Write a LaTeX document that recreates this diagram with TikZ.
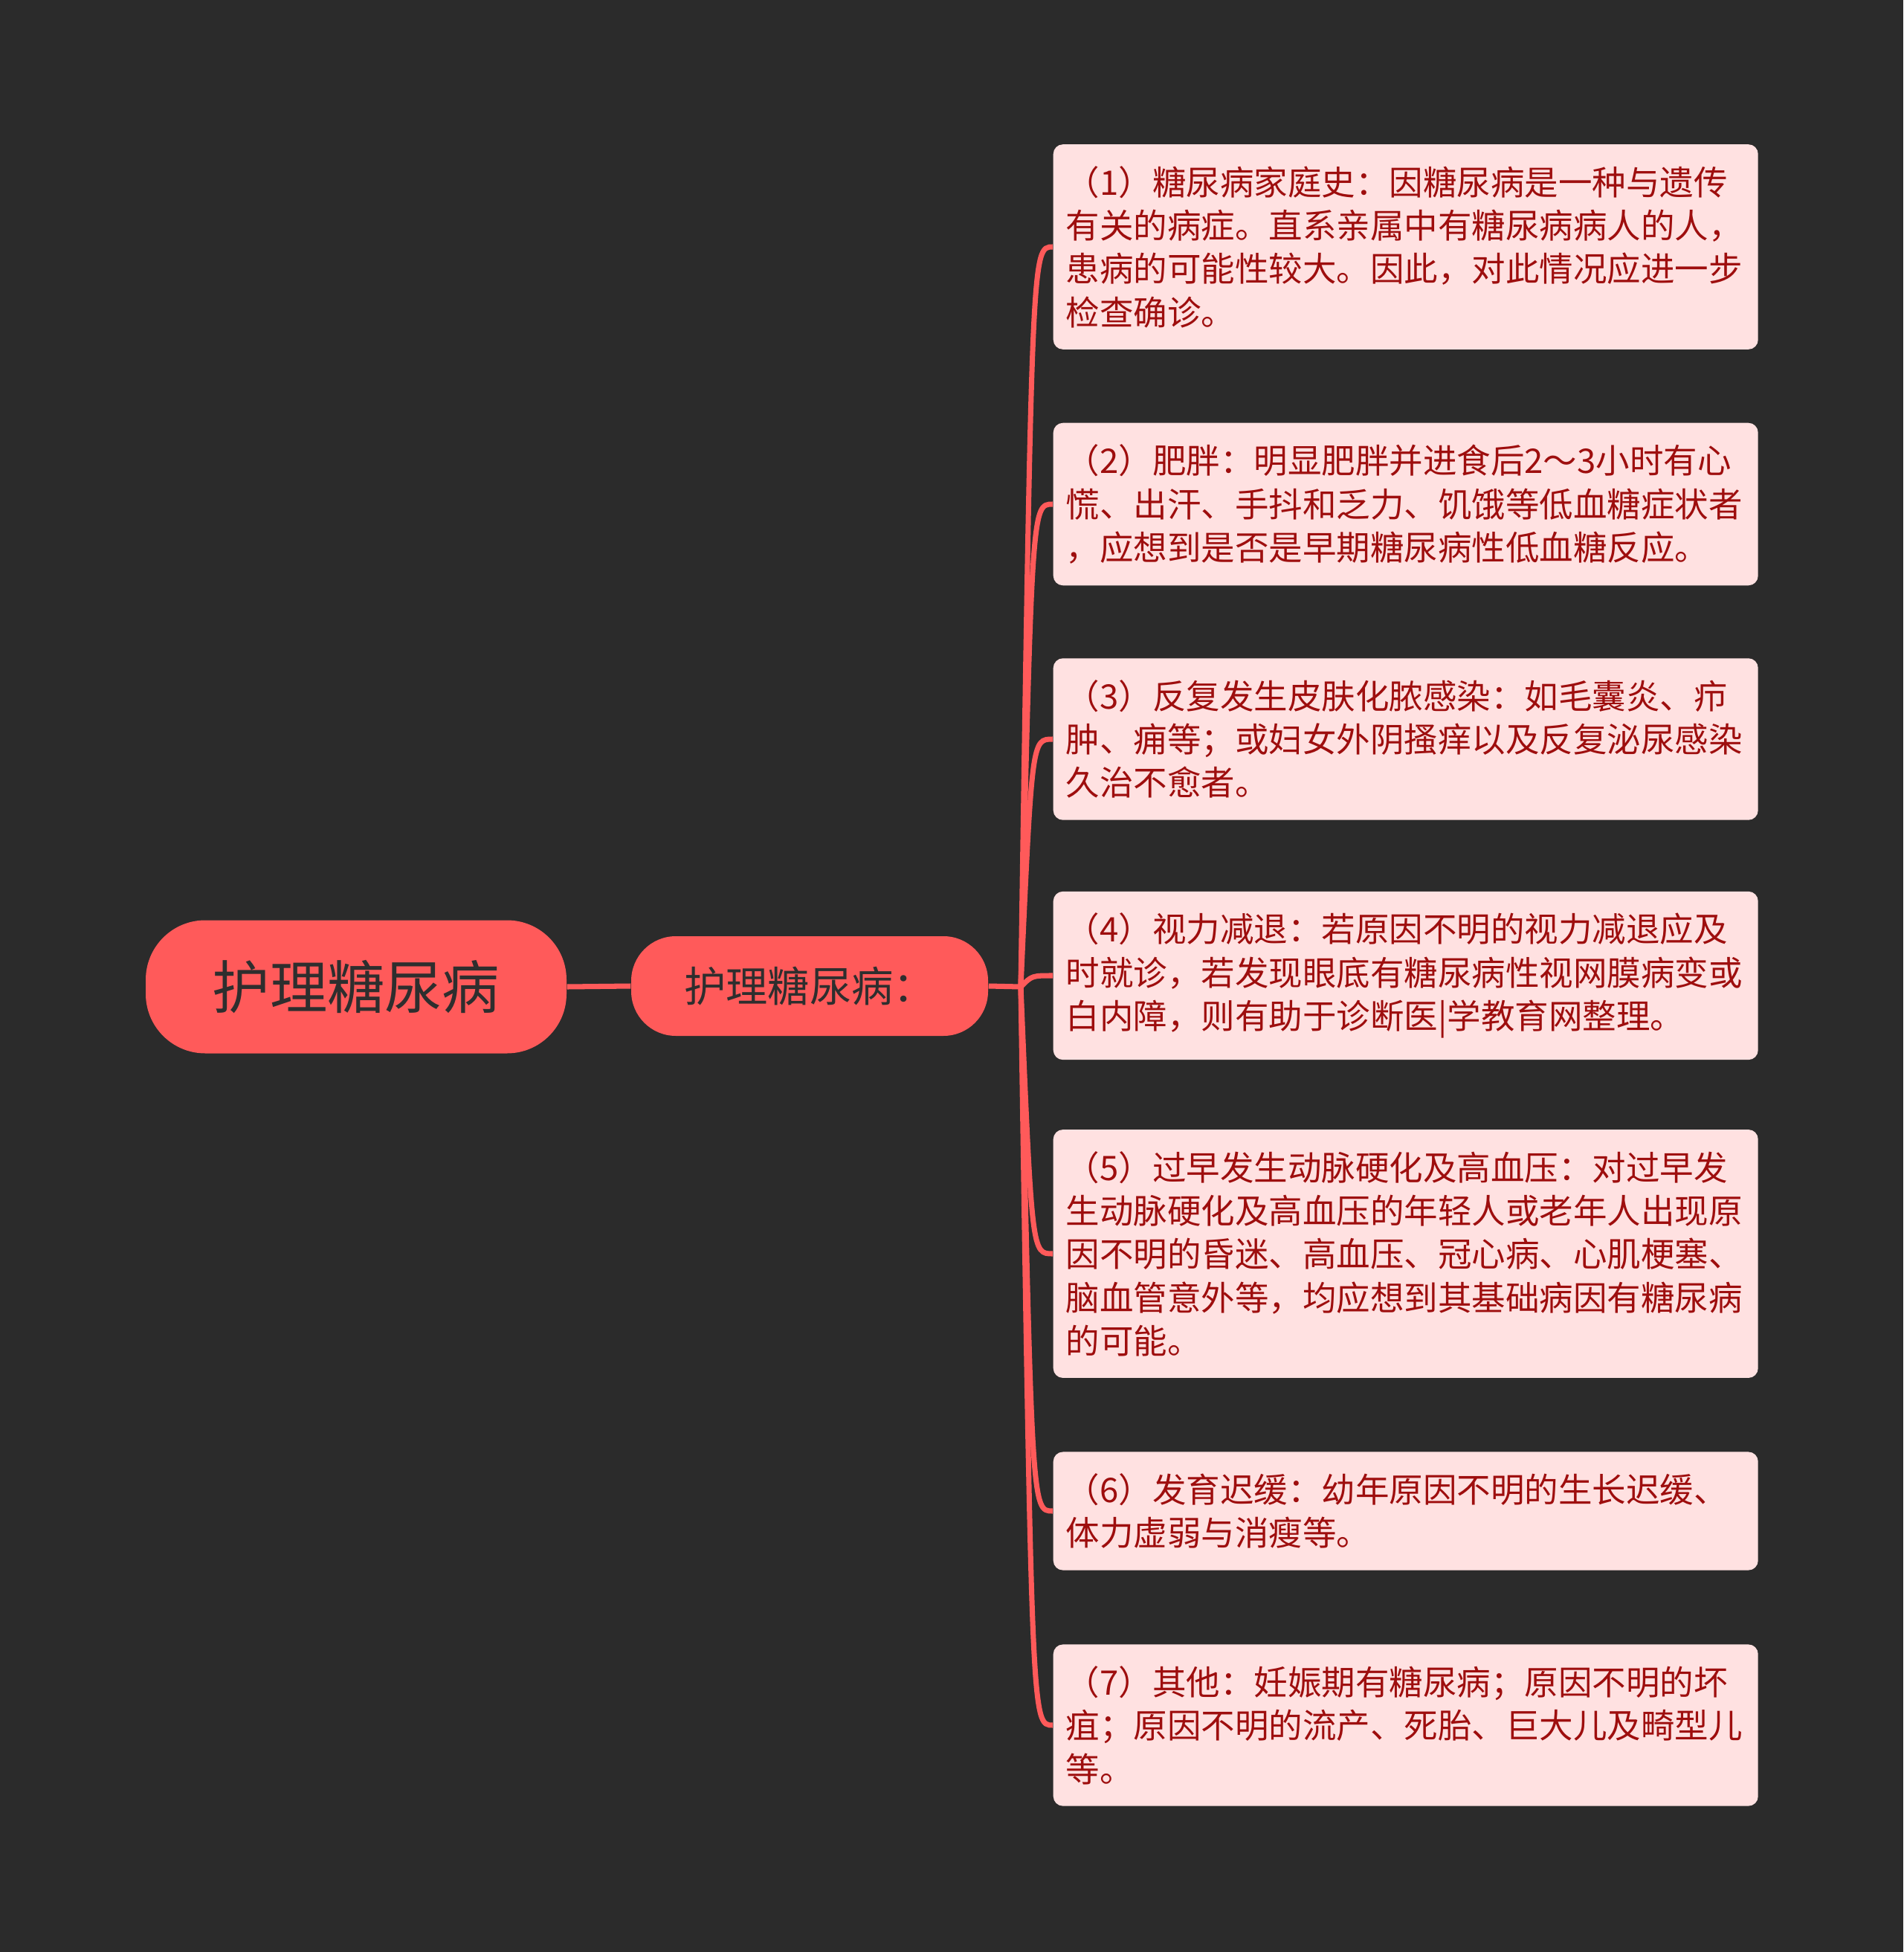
\documentclass[tikz,border=0pt]{standalone}
\usepackage{fontspec}
\setmainfont{Noto Sans CJK SC}
\usetikzlibrary{calc,positioning}

\definecolor{bgdark}{HTML}{2B2B2B}
\definecolor{mainred}{HTML}{FF5A5A}
\definecolor{leafpink}{HTML}{FFE1E1}
\definecolor{leaftext}{HTML}{9E0E0E}
\definecolor{roottext}{HTML}{2E2E2E}

\tikzset{
  rootnode/.style={fill=mainred,draw=none,rounded corners=0.8cm,minimum width=5.66cm,minimum height=1.79cm,
    text=roottext,font=\fontsize{22pt}{26pt}\selectfont},
  subnode/.style={fill=mainred,draw=none,rounded corners=0.6cm,minimum width=4.80cm,minimum height=1.34cm,
    text=roottext,font=\fontsize{16pt}{19pt}\selectfont},
  leaf/.style={fill=leafpink,draw=none,rounded corners=0.13cm,anchor=west,text width=9.14cm,align=left,
    inner xsep=0.17cm,inner ysep=0.29cm,text=leaftext,font=\fontsize{12.95pt}{16.6pt}\selectfont},
  branch/.style={draw=mainred,line width=2pt}
}

\begin{document}
\begin{tikzpicture}
  % Background
  \fill[bgdark] (0,0) rectangle (25.6,-26.25);
  \useasboundingbox (0,0) rectangle (25.6,-26.25);

  % Root and sub topic
  \node[rootnode] (root) at (4.79,-13.27) {护理糖尿病};
  \node[subnode] (topic) at (10.89,-13.26) {护理糖尿病：};
  \coordinate (hub) at (13.73,-13.27);

  % Leaves
  \node[leaf] (leafA) at (14.16,-3.32) {（1）糖尿病家庭史：因糖尿病是一种与遗传\\有关的病症。直系亲属中有糖尿病病人的人，\\患病的可能性较大。因此，对此情况应进一步\\检查确诊。};
  \node[leaf] (leafB) at (14.16,-6.78) {（2）肥胖：明显肥胖并进食后2～3小时有心\\慌、出汗、手抖和乏力、饥饿等低血糖症状者\\，应想到是否是早期糖尿病性低血糖反应。};
  \node[leaf] (leafC) at (14.16,-9.94) {（3）反复发生皮肤化脓感染：如毛囊炎、疖\\肿、痈等；或妇女外阴搔痒以及反复泌尿感染\\久治不愈者。};
  \node[leaf] (leafD) at (14.16,-13.12) {（4）视力减退：若原因不明的视力减退应及\\时就诊，若发现眼底有糖尿病性视网膜病变或\\白内障，则有助于诊断医|学教育网整理。};
  \node[leaf] (leafE) at (14.16,-16.86) {（5）过早发生动脉硬化及高血压：对过早发\\生动脉硬化及高血压的年轻人或老年人出现原\\因不明的昏迷、高血压、冠心病、心肌梗塞、\\脑血管意外等，均应想到其基础病因有糖尿病\\的可能。};
  \node[leaf] (leafF) at (14.16,-20.32) {（6）发育迟缓：幼年原因不明的生长迟缓、\\体力虚弱与消瘦等。};
  \node[leaf] (leafG) at (14.16,-23.20) {（7）其他：妊娠期有糖尿病；原因不明的坏\\疽；原因不明的流产、死胎、巨大儿及畸型儿\\等。};

  % Connectors
  \draw[branch] (root.east) -- (topic.west);
  \draw[branch] (topic.east) -- (hub);
  \draw[branch] (hub) .. controls ($(hub|-leafA.west)+(0.15,0)$) .. (leafA.west);
  \draw[branch] (hub) .. controls ($(hub|-leafB.west)+(0.15,0)$) .. (leafB.west);
  \draw[branch] (hub) .. controls ($(hub|-leafC.west)+(0.15,0)$) .. (leafC.west);
  \draw[branch] (hub) .. controls ($(hub|-leafD.west)+(0.15,0)$) .. (leafD.west);
  \draw[branch] (hub) .. controls ($(hub|-leafE.west)+(0.15,0)$) .. (leafE.west);
  \draw[branch] (hub) .. controls ($(hub|-leafF.west)+(0.15,0)$) .. (leafF.west);
  \draw[branch] (hub) .. controls ($(hub|-leafG.west)+(0.15,0)$) .. (leafG.west);

\end{tikzpicture}
\end{document}
